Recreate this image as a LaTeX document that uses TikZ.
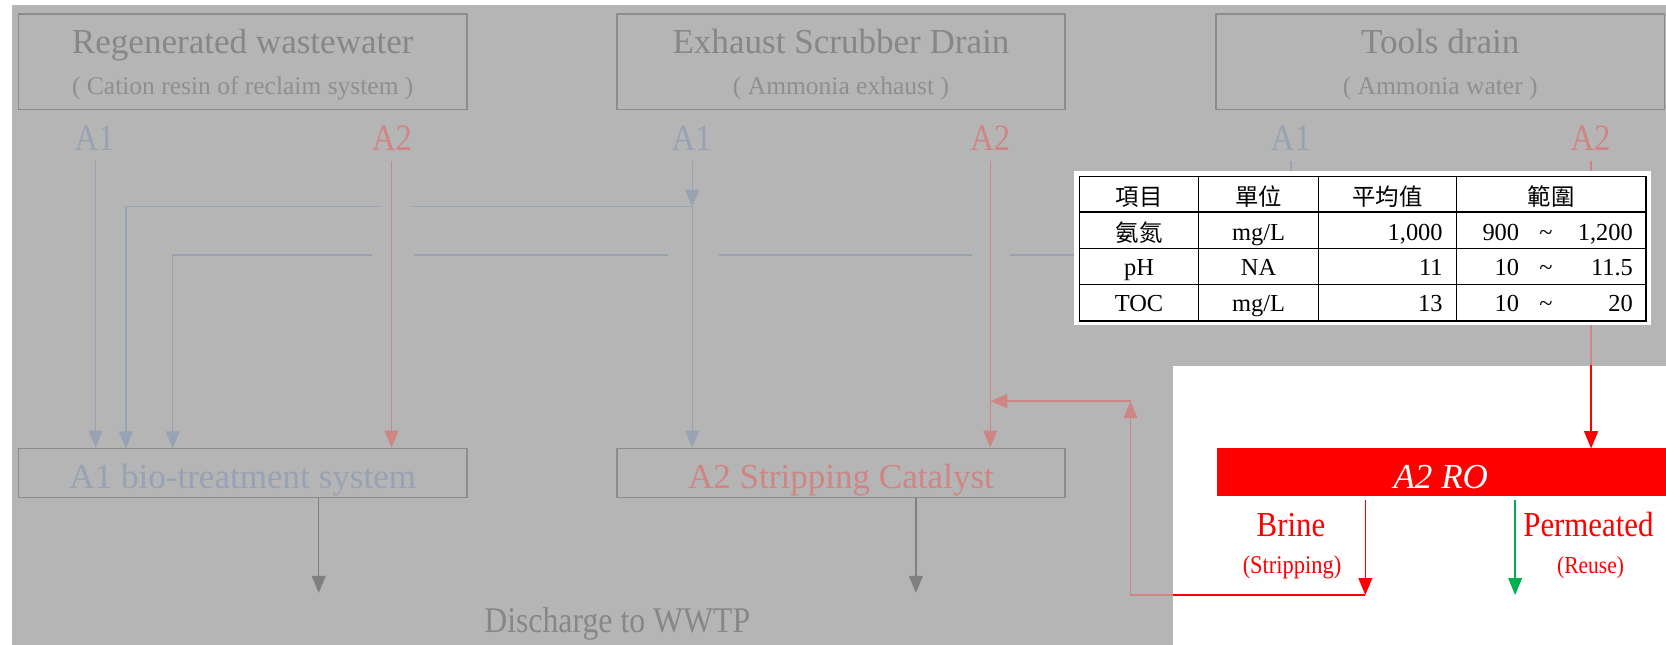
\documentclass[tikz,border=0pt]{standalone}
\usepackage{fontspec}
\setmainfont{Liberation Serif}
\newfontfamily\condfont[FakeStretch=0.88]{Liberation Serif}
\newfontfamily\cjkfont{Noto Sans CJK TC}
\usetikzlibrary{arrows.meta}
\definecolor{bggrey}{HTML}{B5B5B5}
\definecolor{boxgrey}{HTML}{8C8C8C}
\definecolor{titlegrey}{HTML}{878787}
\definecolor{subgrey}{HTML}{8F8F8F}
\definecolor{aone}{HTML}{97A2B4}
\definecolor{atwo}{HTML}{D08585}
\definecolor{dgrey}{HTML}{808080}
\definecolor{rored}{HTML}{FF0000}
\definecolor{pgreen}{HTML}{00B050}
\begin{document}
\begin{tikzpicture}[x=1pt,y=-1pt,
  arr/.style={-{Triangle[length=16pt,width=13pt]}},
  flow/.style={line width=1.3pt},
  a1line/.style={flow,draw=aone},
  a2line/.style={flow,draw=atwo},
  dline/.style={flow,draw=dgrey},
  redline/.style={flow,draw=rored},
  greenline/.style={flow,draw=pgreen},
  srcbox/.style={draw=boxgrey,line width=1.4pt,minimum width=422pt,minimum height=90pt,inner sep=0pt},
  procbox/.style={draw=boxgrey,line width=1.4pt,minimum width=422pt,minimum height=46pt,inner sep=0pt},
  txt/.style={inner sep=0pt,anchor=base},
  title/.style={txt,text=titlegrey,font=\fontsize{33}{33}\selectfont},
  subtitle/.style={txt,text=subgrey,font=\fontsize{24}{24}\selectfont},
  alab/.style={txt,font=\condfont\fontsize{35}{35}\selectfont},
  boxtxt/.style={txt,font=\fontsize{33}{33}\selectfont},
  rolab/.style={txt,text=rored},
  tlat/.style={txt,font=\fontsize{23}{23}\selectfont},
  tcjk/.style={txt,font=\cjkfont\fontsize{22}{22}\selectfont},
  grid/.style={draw=black,line width=1.2pt}
]
\useasboundingbox (0,0) rectangle (1568,607);
\fill[white] (0,0) rectangle (1568,607);
\fill[bggrey] (11,5) rectangle (1568,607);
\fill[white] (1104,344) rectangle (1568,607);

% source boxes
\node[srcbox] (src1) at (228.5,58) {};
\node[title] (src1t) at (228.5,50) {Regenerated wastewater};
\node[subtitle] (src1s) at (228.5,89) {( Cation resin of reclaim system )};
\node[srcbox] (src2) at (791.5,58) {};
\node[title] (src2t) at (791.5,50) {Exhaust Scrubber Drain};
\node[subtitle] (src2s) at (791.5,89) {( Ammonia exhaust )};
\node[srcbox] (src3) at (1355.5,58) {};
\node[title] (src3t) at (1355.5,50) {Tools drain};
\node[subtitle] (src3s) at (1355.5,89) {( Ammonia water )};

% A1 / A2 labels
\node[alab,text=aone] (l11) at (89,142) {A1};
\node[alab,text=atwo] (l12) at (369,142) {A2};
\node[alab,text=aone] (l21) at (651,142) {A1};
\node[alab,text=atwo] (l22) at (932,142) {A2};
\node[alab,text=aone] (l31) at (1215,142) {A1};
\node[alab,text=atwo] (l32) at (1497,142) {A2};

% process boxes
\node[procbox] (bio) at (228.5,445) {};
\node[boxtxt,text=aone] (biot) at (228.5,459.5) {A1 bio-treatment system};
\node[procbox] (strip) at (791.5,445) {};
\node[boxtxt,text=atwo] (stript) at (791.5,459.5) {A2 Stripping Catalyst};
\node[fill=rored,minimum width=423pt,minimum height=45pt,inner sep=0pt] (ro) at (1356.5,444.5) {};
\node[txt,text=white,font=\itshape\fontsize{33}{33}\selectfont] (rot) at (1356,460) {A2 RO};

\node[txt,text=titlegrey,font=\condfont\fontsize{34}{34}\selectfont] (dis) at (581,595) {Discharge to WWTP};

% line start coordinates
\coordinate (p11) at (90,151.5);
\coordinate (p12) at (368.5,151.5);
\coordinate (p21) at (651.5,151.5);
\coordinate (p22) at (932,151.5);
\coordinate (p31) at (1215,151.5);
\coordinate (p32) at (1497.5,151.5);
\coordinate (j21) at (651.5,194.5);
\coordinate (j31) at (1215,240);

% Regenerated wastewater
\draw[a1line,arr] (p11) -- (p11 |- bio.north);
\draw[a2line,arr] (p12) -- (p12 |- bio.north);

% Exhaust scrubber A1
\draw[a1line,arr] (p21) -- (j21);
\draw[a1line,arr] (j21) -- (j21 |- strip.north);
\draw[a1line] (j21) -- (389,194.5);
\draw[a1line,arr] (357,194.5) -- (118.5,194.5) -- (118.5,422);

% Tools drain A1
\draw[a1line] (p31) -- (j31) -- (951,240);
\draw[a1line] (915,240) -- (677,240);
\draw[a1line] (629,240) -- (390,240);
\draw[a1line,arr] (350,240) -- (162.5,240) -- (162.5,422);

% A2 lines
\draw[a2line,arr] (p22) -- (p22 |- strip.north);
\draw[a2line,arr] (p32) -- (p32 |- ro.north);

% discharge
\coordinate (d1) at (300,558);
\coordinate (d2) at (862,558);
\draw[dline,arr] (d1 |- bio.south) -- (d1);
\draw[dline,arr] (d2 |- strip.south) -- (d2);

% RO outputs
\coordinate (b1) at (1285,471);
\coordinate (b2) at (1285,560);
\coordinate (g1) at (1426,471);
\coordinate (g2) at (1426,560);
\coordinate (r1) at (1064,560);
\coordinate (r2) at (1064,377.5);
\coordinate (r3) at (932,377.5);
\draw[redline,arr] (b1) -- (b2);
\draw[greenline,arr] (g1) -- (g2);
\draw[a2line,arr] (b2) -- (r1) -- (r2);
\draw[a2line,arr] (r2) -- (r3);
\begin{scope}
\clip (1104,344) rectangle (1568,607);
\draw[redline] (b2) -- (r1);
\draw[redline,arr] (p32) -- (p32 |- ro.north);
\end{scope}

\node[rolab,font=\condfont\fontsize{33}{33}\selectfont] (brine) at (1215,505) {Brine};
\node[rolab,font=\condfont\fontsize{24}{24}\selectfont] (brines) at (1216,540) {(Stripping)};
\node[rolab,font=\condfont\fontsize{33}{33}\selectfont] (perm) at (1495,505) {Permeated};
\node[rolab,font=\condfont\fontsize{23}{23}\selectfont] (perms) at (1497,540) {(Reuse)};

% table
\fill[white] (1011,160.5) rectangle (1554,305.5);
\draw[grid] (1016,199.5) -- (1549,199.5);
\draw[grid] (1016,234) -- (1549,234);
\draw[grid] (1016,268) -- (1549,268);
\draw[grid] (1128,166) -- (1128,302);
\draw[grid] (1241,166) -- (1241,302);
\draw[grid] (1371,166) -- (1371,302);
\draw[draw=black,line width=1.6pt] (1016,166) rectangle (1549,302);

\node[tcjk] (h1) at (1072,193) {項目};
\node[tcjk] (h2) at (1184.5,193) {單位};
\node[tcjk] (h3) at (1306,193) {平均值};
\node[tcjk] (h4) at (1460,193) {範圍};

\node[tcjk] (c11) at (1072,227) {氨氮};
\node[tlat] (c12) at (1184.5,226) {mg/L};
\node[tlat,anchor=base east] (c13) at (1358,226) {1,000};
\node[tlat,anchor=base east] (c14) at (1430,226) {900};
\node[tlat] (c15) at (1455,226) {\textasciitilde};
\node[tlat,anchor=base east] (c16) at (1537,226) {1,200};

\node[tlat] (c21) at (1072,259.5) {pH};
\node[tlat] (c22) at (1184.5,259.5) {NA};
\node[tlat,anchor=base east] (c23) at (1358,259.5) {11};
\node[tlat,anchor=base east] (c24) at (1430,259.5) {10};
\node[tlat] (c25) at (1455,259.5) {\textasciitilde};
\node[tlat,anchor=base east] (c26) at (1537,259.5) {11.5};

\node[tlat] (c31) at (1072,293.5) {TOC};
\node[tlat] (c32) at (1184.5,293.5) {mg/L};
\node[tlat,anchor=base east] (c33) at (1358,293.5) {13};
\node[tlat,anchor=base east] (c34) at (1430,293.5) {10};
\node[tlat] (c35) at (1455,293.5) {\textasciitilde};
\node[tlat,anchor=base east] (c36) at (1537,293.5) {20};
\end{tikzpicture}
\end{document}
